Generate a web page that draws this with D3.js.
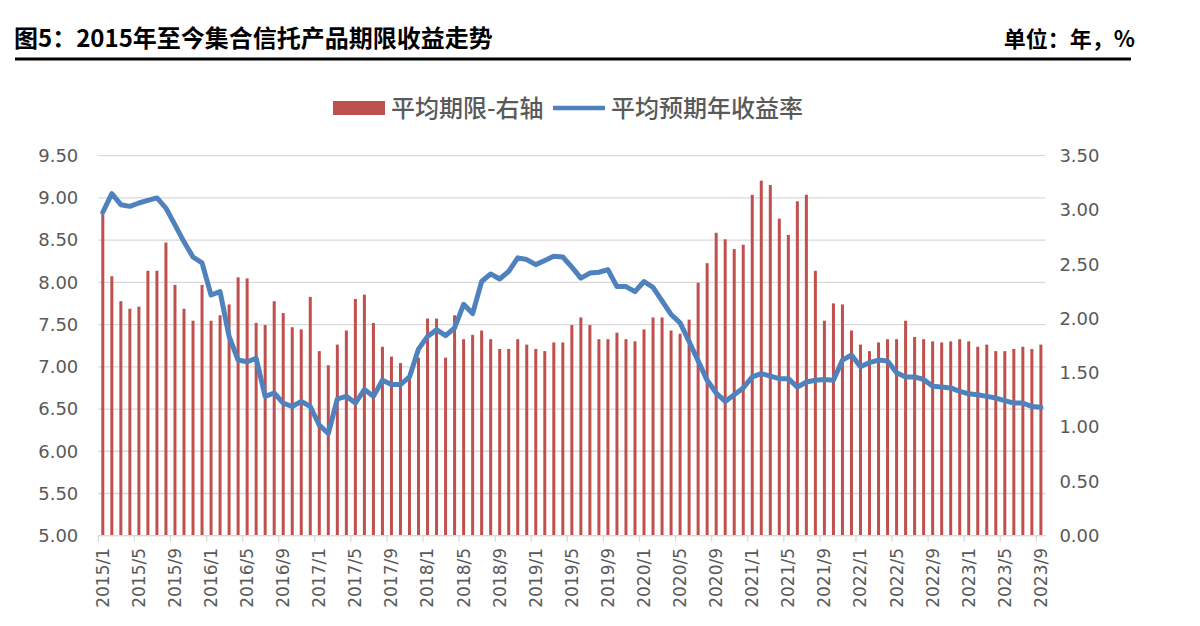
<!DOCTYPE html>
<html><head><meta charset="utf-8">
<script src="https://cdn.jsdelivr.net/npm/d3@7/dist/d3.min.js"></script>
<style>
html,body{margin:0;padding:0;background:#fff;}
svg{display:block;}
</style></head>
<body>
<svg id="chart" width="1200" height="626"></svg>
<script>
// ---- data ----
const years = [2015, 2016, 2017, 2018, 2019, 2020, 2021, 2022, 2023];
const months = [];
years.forEach(y => { for (let m = 1; m <= 12; m++) { if (y === 2023 && m > 9) break; months.push(y + "/" + m); } });
const tickLabels = ["2015/1","2015/5","2015/9","2016/1","2016/5","2016/9","2017/1","2017/5","2017/9","2018/1","2018/5","2018/9","2019/1","2019/5","2019/9","2020/1","2020/5","2020/9","2021/1","2021/5","2021/9","2022/1","2022/5","2022/9","2023/1","2023/5","2023/9"];
// 平均期限 (years, right axis)
const avgTerm = [
 2.96,2.39,2.16,2.09,2.11,2.44,2.44,2.70,2.31,2.09,1.98,2.31,
 1.98,2.03,2.13,2.38,2.37,1.96,1.94,2.16,2.05,1.92,1.90,2.20,
 1.70,1.57,1.76,1.89,2.18,2.22,1.96,1.74,1.65,1.59,1.50,1.64,
 2.00,2.00,1.64,2.03,1.81,1.85,1.89,1.81,1.72,1.72,1.81,1.76,
 1.72,1.70,1.78,1.78,1.94,2.01,1.94,1.81,1.81,1.87,1.81,1.79,
 1.90,2.01,2.01,1.89,1.86,1.99,2.33,2.51,2.79,2.73,2.64,2.68,
 3.14,3.27,3.23,2.92,2.77,3.08,3.14,2.44,1.98,2.14,2.13,1.89,
 1.76,1.70,1.78,1.81,1.81,1.98,1.83,1.81,1.79,1.78,1.79,1.81,
 1.79,1.74,1.76,1.70,1.70,1.72,1.74,1.72,1.76];
// 平均预期年收益率 (%, left axis)
const avgYield = [
 8.83,9.05,8.92,8.90,8.94,8.97,9.00,8.88,8.68,8.48,8.30,8.23,
 7.85,7.89,7.36,7.08,7.06,7.10,6.65,6.69,6.57,6.53,6.59,6.53,
 6.31,6.21,6.62,6.65,6.57,6.73,6.65,6.84,6.79,6.79,6.88,7.21,
 7.36,7.44,7.37,7.46,7.74,7.63,8.01,8.10,8.04,8.13,8.29,8.27,
 8.21,8.26,8.31,8.30,8.18,8.05,8.11,8.12,8.15,7.95,7.95,7.89,
 8.01,7.94,7.78,7.62,7.52,7.30,7.07,6.84,6.69,6.59,6.67,6.75,
 6.88,6.92,6.89,6.86,6.86,6.76,6.82,6.84,6.85,6.84,7.08,7.14,
 7.00,7.05,7.08,7.07,6.93,6.88,6.88,6.85,6.77,6.76,6.75,6.71,
 6.68,6.67,6.65,6.63,6.60,6.57,6.57,6.53,6.52];
const leftTicks = [5.0,5.5,6.0,6.5,7.0,7.5,8.0,8.5,9.0,9.5];
const rightTicks = [0,0.5,1.0,1.5,2.0,2.5,3.0,3.5];
const seriesNames = ["平均期限-右轴", "平均预期年收益率"];
const titleText = "图5：2015年至今集合信托产品期限收益走势";
const unitText = "单位：年，%";

// ---- layout ----
const svg = d3.select("#chart");
const L = 98.3, R = 1045.4, T = 155.7, B = 535.7;
const barColor = "#C0504D", lineColor = "#4F81BD", gridColor = "#D9D9D9", textColor = "#595959";
const font = "'DejaVu Sans', Verdana, sans-serif";
const cjk = "'Noto Sans CJK SC', sans-serif";

const x = d3.scaleBand().domain(months).range([L, R]).paddingInner(0).paddingOuter(0);
const yL = d3.scaleLinear().domain([5, 9.5]).range([B, T]);
const yR = d3.scaleLinear().domain([0, 3.5]).range([B, T]);

// title
svg.append("text").attr("x", 14).attr("y", 47).attr("font-family", cjk).attr("font-weight", 700)
  .attr("font-size", 24).attr("fill", "#000").text(titleText);
svg.append("text").attr("x", 1135).attr("y", 47).attr("text-anchor", "end").attr("font-family", cjk).attr("font-weight", 700)
  .attr("font-size", 22).attr("fill", "#000").text(unitText);
svg.append("line").attr("x1", 15).attr("x2", 1131).attr("y1", 59).attr("y2", 59).attr("stroke", "#000").attr("stroke-width", 3);

// gridlines
svg.append("g").selectAll("line").data(leftTicks).join("line")
  .attr("x1", L).attr("x2", R).attr("y1", d => yL(d)).attr("y2", d => yL(d))
  .attr("stroke", gridColor).attr("stroke-width", 1.3);

// left axis
const axL = svg.append("g").attr("transform", `translate(${L},0)`)
  .call(d3.axisLeft(yL).tickValues(leftTicks).tickFormat(d3.format(".2f")).tickSize(0).tickPadding(20));
axL.select(".domain").remove();
axL.selectAll("text").attr("font-family", font).attr("font-size", 18).attr("fill", textColor);

// right axis
const axR = svg.append("g").attr("transform", `translate(${R},0)`)
  .call(d3.axisRight(yR).tickValues(rightTicks).tickFormat(d3.format(".2f")).tickSize(0).tickPadding(14));
axR.select(".domain").remove();
axR.selectAll("text").attr("font-family", font).attr("font-size", 18).attr("fill", textColor);

// bars
const bw = 3;
svg.append("g").selectAll("rect").data(avgTerm).join("rect")
  .attr("x", (d, i) => x(months[i]) + x.bandwidth() / 2 - bw / 2)
  .attr("width", bw)
  .attr("y", d => yR(d))
  .attr("height", d => yR(0) - yR(d))
  .attr("fill", barColor);

// x axis ticks & labels
const tickIdx = tickLabels.map(t => months.indexOf(t));
svg.append("g").selectAll("line").data(tickIdx).join("line")
  .attr("x1", i => x(months[i])).attr("x2", i => x(months[i]))
  .attr("y1", B).attr("y2", B + 6).attr("stroke", gridColor).attr("stroke-width", 1.3);
svg.append("line").attr("x1", L).attr("x2", R).attr("y1", B).attr("y2", B).attr("stroke", gridColor).attr("stroke-width", 1.3);
svg.append("g").selectAll("text").data(tickLabels).join("text")
  .attr("transform", t => `translate(${x(t) + x.bandwidth() / 2},548) rotate(-90)`)
  .attr("text-anchor", "end").attr("dy", "0.35em")
  .attr("font-family", font).attr("font-size", 17).attr("fill", textColor).text(t => t);

// line
const line = d3.line().x((d, i) => x(months[i]) + x.bandwidth() / 2).y(d => yL(d));
svg.append("path").datum(avgYield).attr("d", line).attr("fill", "none")
  .attr("stroke", lineColor).attr("stroke-width", 5).attr("stroke-linejoin", "round").attr("stroke-linecap", "round");

// legend
const lg = svg.append("g");
lg.append("rect").attr("x", 333).attr("y", 101).attr("width", 52).attr("height", 14).attr("fill", barColor);
lg.append("text").attr("x", 391).attr("y", 108).attr("dy", "0.36em").attr("font-family", cjk).attr("font-size", 24)
  .attr("font-weight", 500).attr("fill", textColor).text(seriesNames[0]);
lg.append("line").attr("x1", 553).attr("x2", 605).attr("y1", 108).attr("y2", 108).attr("stroke", lineColor).attr("stroke-width", 4.5);
lg.append("text").attr("x", 611).attr("y", 108).attr("dy", "0.36em").attr("font-family", cjk).attr("font-size", 24)
  .attr("font-weight", 500).attr("fill", textColor).text(seriesNames[1]);
</script>
</body></html>
